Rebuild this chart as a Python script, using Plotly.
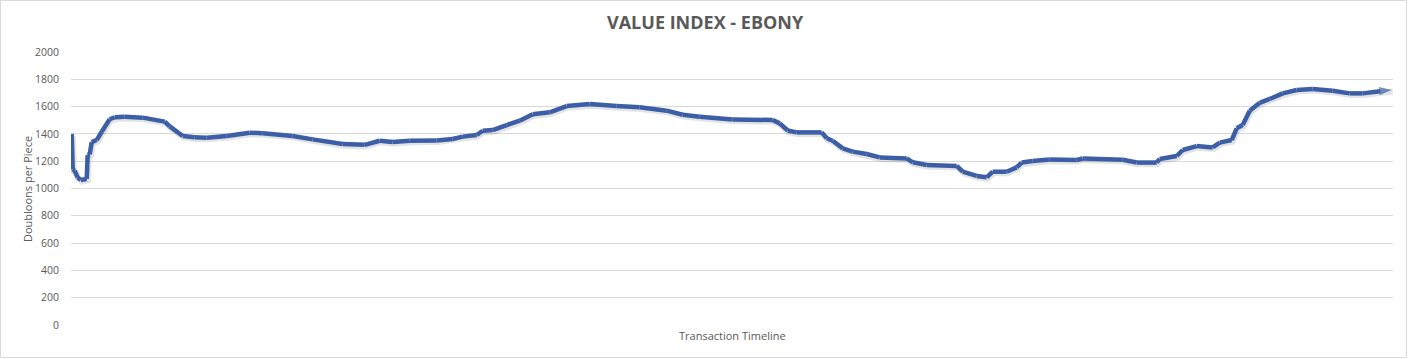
import plotly.graph_objects as go

# Transaction index (timeline) and value in doubloons per piece
transaction = [0, 1, 3, 6, 9, 13, 15, 16, 18, 20, 25, 30, 35, 38, 43, 53, 71, 78, 85, 93,
               98, 105, 111, 123, 135, 155, 178, 191, 208, 221, 241, 258, 271, 293, 308, 321,
               338, 365, 381, 391, 405, 411, 421, 435, 448, 461, 478, 495, 518, 545, 568,
               595, 611, 628, 661, 701, 708, 716, 725, 750, 755, 761, 771, 781, 795, 808,
               835, 841, 855, 885, 891, 905, 915, 921, 935, 945, 950, 961, 978, 1005, 1011,
               1051, 1065, 1085, 1088, 1105, 1111, 1125, 1141, 1148, 1160, 1165, 1171, 1178,
               1188, 1198, 1211, 1225, 1241, 1261, 1278, 1291, 1305, 1311, 1320]
value = [1400, 1140, 1130, 1080, 1062, 1065, 1070, 1245, 1250, 1340, 1355, 1416, 1480, 1507,
         1522, 1525, 1519, 1512, 1502, 1490, 1455, 1420, 1385, 1375, 1372, 1385, 1409, 1405,
         1395, 1385, 1360, 1340, 1326, 1320, 1350, 1340, 1350, 1352, 1363, 1380, 1392, 1423,
         1428, 1465, 1497, 1544, 1558, 1604, 1619, 1604, 1595, 1570, 1540, 1526, 1505, 1502,
         1477, 1425, 1411, 1411, 1368, 1350, 1294, 1270, 1253, 1228, 1220, 1192, 1172, 1165,
         1123, 1092, 1082, 1123, 1123, 1155, 1190, 1201, 1212, 1209, 1220, 1210, 1190, 1190,
         1216, 1238, 1282, 1311, 1301, 1336, 1355, 1441, 1465, 1570, 1628, 1656, 1697, 1722,
         1729, 1716, 1697, 1697, 1709, 1716, 1722]
y_ticks = [0, 200, 400, 600, 800, 1000, 1200, 1400, 1600, 1800, 2000]

title_text = "VALUE INDEX - EBONY"
x_title = "Transaction Timeline"
y_title = "Doubloons per Piece"

line_color = "#3B5EA6"
text_color = "#595959"
font_family = "Open Sans, Noto Sans, sans-serif"

fig = go.Figure()
# soft shadow
fig.add_trace(go.Scatter(x=[t + 1 for t in transaction], y=[v - 12 for v in value], mode="lines",
                         line=dict(color="rgba(0,0,0,0.11)", width=6), hoverinfo="skip",
                         showlegend=False))
sizes = [0] * (len(value) - 1) + [13]
fig.add_trace(go.Scatter(x=transaction, y=value, mode="lines+markers",
                         line=dict(color=line_color, width=4.5),
                         marker=dict(symbol="arrow", angleref="previous", size=sizes,
                                     color=line_color, line=dict(width=0)),
                         showlegend=False))

W, H = 1408, 359
L, T = 71, 52
B = H - 325
R = W - 1393
pw = W - L - R
ph = H - T - B


def px_x(x):
    return (x - L) / pw


def px_y(y):
    return (H - B - y) / ph


fig.update_layout(
    width=W, height=H,
    margin=dict(l=L, r=R, t=T, b=B, autoexpand=False),
    paper_bgcolor="white", plot_bgcolor="white",
    font=dict(family=font_family, color=text_color, size=10),
    xaxis=dict(range=[-0.7, 1321.3], showgrid=False, showticklabels=False, zeroline=False,
               showline=False, ticks=""),
    yaxis=dict(range=[0, 2000], tickvals=y_ticks, showgrid=True, gridcolor="#D9D9D9",
               gridwidth=1, zeroline=False, showline=False, ticks="",
               tickfont=dict(size=10.5, color=text_color), ticklabelstandoff=11),
    annotations=[
        dict(text=f"<b>{title_text}</b>", xref="paper", yref="paper",
             x=px_x(705), y=px_y(22), xanchor="center", yanchor="middle",
             showarrow=False, font=dict(size=18, color=text_color, family=font_family)),
        dict(text=x_title, xref="paper", yref="paper",
             x=px_x(732), y=px_y(335), xanchor="center", yanchor="middle",
             showarrow=False, font=dict(size=11, color=text_color, family=font_family)),
        dict(text=y_title, xref="paper", yref="paper", textangle=-90,
             x=px_x(27), y=px_y(189), xanchor="center", yanchor="middle",
             showarrow=False, font=dict(size=11, color=text_color, family=font_family)),
    ],
    shapes=[dict(type="rect", xref="paper", yref="paper",
                 x0=px_x(0.5), x1=px_x(1406.5),
                 y0=px_y(357.5), y1=px_y(0.5),
                 line=dict(color="#D9D9D9", width=1), fillcolor="rgba(0,0,0,0)", layer="below")],
)

fig.write_html("out.html", config={"displayModeBar": False},
               post_script="document.body.style.margin='0px';document.body.style.overflow='hidden';")
